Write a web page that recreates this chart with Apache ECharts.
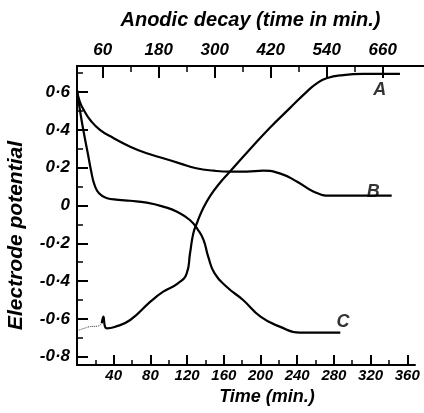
<!DOCTYPE html>
<html>
<head>
<meta charset="utf-8">
<script src="https://cdn.jsdelivr.net/npm/echarts@6/dist/echarts.min.js"></script>
<style>
  html, body { margin: 0; padding: 0; background: #fff; }
  #chart { width: 424px; height: 413px; }
</style>
</head>
<body>
<div id="chart"></div>
<script>
// tick labels
var timeTicks = [40, 80, 120, 160, 200, 240, 280, 320, 360];
var timeMinor = [20, 60, 100, 140, 180, 220, 260, 300, 340];
var anodicTicks = [60, 180, 300, 420, 540, 660];
var anodicMinor = [120, 240, 360, 480, 600];
var potentialTicks = [-0.8, -0.6, -0.4, -0.2, 0, 0.2, 0.4, 0.6];
var potentialMinor = [-0.7, -0.5, -0.3, -0.1, 0.1, 0.3, 0.5, 0.7];

// curves, [time (min), potential]
var curveAStart = [[2, -0.66], [9, -0.648], [14, -0.641], [23, -0.638], [27, -0.623]];
var curveA = [[27, -0.623], [28.7, -0.588], [30.5, -0.641], [32.4, -0.65], [41, -0.643], [58, -0.606],
    [80, -0.509], [94, -0.456], [110, -0.412], [119.6, -0.359], [123.2, -0.253], [126.8, -0.147],
    [131, -0.09], [137, -0.02], [145, 0.05], [155, 0.115], [165, 0.17], [189, 0.3], [210, 0.41],
    [232, 0.515], [250, 0.6], [261, 0.645], [272, 0.673], [290, 0.69], [312, 0.696], [352, 0.696]];
var curveB = [[0, 0.61], [3, 0.55], [8, 0.5], [14, 0.455], [25, 0.4], [40, 0.356], [58, 0.311],
    [76, 0.276], [94, 0.25], [112, 0.223], [130, 0.197], [149, 0.184], [167, 0.179], [185, 0.179],
    [203, 0.184], [221, 0.17], [240, 0.126], [258, 0.073], [276, 0.052], [312, 0.052], [343, 0.052]];
var curveC = [[0, 0.61], [4, 0.48], [8, 0.37], [12, 0.27], [15.5, 0.18], [19, 0.11], [24, 0.065],
    [32, 0.04], [45, 0.03], [58, 0.025], [76, 0.015], [94, -0.006], [109, -0.033], [123, -0.077],
    [132, -0.13], [138, -0.183], [143, -0.271], [150, -0.359], [163, -0.43], [181, -0.5],
    [200, -0.588], [221, -0.641], [243, -0.673], [287, -0.673]];
var curveLetters = [['A', 330, 0.61], ['B', 323, 0.07], ['C', 290, -0.615]];

var font = 'Liberation Sans';
var myChart = echarts.init(document.getElementById('chart'));

function potentialLabel(v) {
    if (v === 0) return '0';
    return v.toFixed(1).replace('.', '\u00b7');
}

function curve(name, data, dotted) {
    return {
        name: name,
        type: 'line',
        xAxisIndex: 0,
        yAxisIndex: 0,
        data: data,
        showSymbol: false,
        smooth: 0.5,
        lineStyle: dotted ? { color: '#333', width: 1, type: 'dotted' } : { color: '#000', width: 2.2 }
    };
}

var option = {
    animation: false,
    backgroundColor: '#fff',
    grid: [
        { left: 77, right: 9, top: 66, bottom: 48, outerBoundsMode: 'none' },
        { left: 77, right: 0, top: 66, bottom: 48, outerBoundsMode: 'none' }
    ],
    xAxis: [
        {
            type: 'value', gridIndex: 0, position: 'bottom', min: 0, max: 368.4,
            name: 'Time (min.)', nameLocation: 'middle', nameGap: 22,
            nameTextStyle: { fontFamily: font, fontStyle: 'italic', fontWeight: 'bold', fontSize: 18, color: '#000', padding: [0, 0, 0, 42] },
            axisLine: { onZero: false, lineStyle: { color: '#000', width: 2 } },
            axisTick: { inside: true, length: 10, lineStyle: { width: 2 }, customValues: timeTicks },
            axisLabel: { customValues: timeTicks, margin: 3, color: '#000', fontFamily: font, fontStyle: 'italic', fontWeight: 'bold', fontSize: 15 },
            splitLine: { show: false }
        },
        {
            type: 'value', gridIndex: 0, position: 'bottom', min: 0, max: 368.4,
            axisLine: { show: false, onZero: false },
            axisTick: { inside: true, length: 5, lineStyle: { color: '#000', width: 1.5 }, customValues: timeMinor },
            axisLabel: { show: false },
            splitLine: { show: false }
        },
        {
            type: 'value', gridIndex: 1, position: 'top', min: 5, max: 748.5,
            name: 'Anodic decay (time in min.)', nameLocation: 'middle', nameGap: 36,
            nameTextStyle: { fontFamily: font, fontStyle: 'italic', fontWeight: 'bold', fontSize: 20, color: '#000' },
            axisLine: { onZero: false, lineStyle: { color: '#000', width: 2 } },
            axisTick: { inside: true, length: 12, lineStyle: { width: 2 }, customValues: anodicTicks },
            axisLabel: { customValues: anodicTicks, margin: 7, color: '#000', fontFamily: font, fontStyle: 'italic', fontWeight: 'bold', fontSize: 17 },
            splitLine: { show: false }
        },
        {
            type: 'value', gridIndex: 1, position: 'top', min: 5, max: 748.5,
            axisLine: { show: false, onZero: false },
            axisTick: { inside: true, length: 6, lineStyle: { color: '#000', width: 1.5 }, customValues: anodicMinor },
            axisLabel: { show: false },
            splitLine: { show: false }
        }
    ],
    yAxis: [
        {
            type: 'value', gridIndex: 0, position: 'left', min: -0.844, max: 0.738,
            name: 'Electrode potential', nameLocation: 'middle', nameGap: 50,
            nameTextStyle: { fontFamily: font, fontStyle: 'italic', fontWeight: 'bold', fontSize: 21, color: '#000', padding: [0, 40, 0, 0] },
            axisLine: { show: true, onZero: false, lineStyle: { color: '#000', width: 2 } },
            axisTick: { show: true, inside: true, length: 11, lineStyle: { width: 2 }, customValues: potentialTicks },
            axisLabel: { customValues: potentialTicks, formatter: potentialLabel, margin: 7, color: '#000', fontFamily: font, fontStyle: 'italic', fontWeight: 'bold', fontSize: 17 },
            splitLine: { show: false }
        },
        {
            type: 'value', gridIndex: 0, position: 'left', min: -0.844, max: 0.738,
            axisLine: { show: false, onZero: false },
            axisTick: { show: true, inside: true, length: 6, lineStyle: { color: '#000', width: 1.5 }, customValues: potentialMinor },
            axisLabel: { show: false },
            splitLine: { show: false }
        },
        { type: 'value', gridIndex: 1, show: false, min: -0.844, max: 0.738 }
    ],
    series: [
        curve('A start', curveAStart, true),
        curve('A', curveA),
        curve('B', curveB),
        curve('C', curveC),
        {
            type: 'scatter',
            xAxisIndex: 0,
            yAxisIndex: 0,
            symbolSize: 0,
            data: curveLetters.map(function (d) { return { name: d[0], value: [d[1], d[2]] }; }),
            label: {
                show: true, position: 'inside', formatter: '{b}', color: '#000',
                fontFamily: font, fontStyle: 'italic', fontWeight: 'bold', fontSize: 18
            }
        }
    ]
};

myChart.setOption(option);
</script>
</body>
</html>
